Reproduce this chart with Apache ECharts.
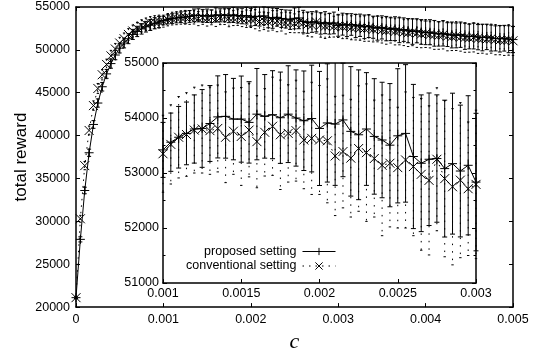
<!DOCTYPE html>
<html><head><meta charset="utf-8">
<script src="https://cdn.jsdelivr.net/npm/echarts@6/dist/echarts.min.js"></script>
<style>html,body{margin:0;padding:0;background:#fff}#c{width:538px;height:358px}</style>
</head><body><div id="c"></div>
<script>
// sample spacing of parameter c
const cStep = 0.00005;
const seriesNames = ['proposed setting', 'conventional setting'];
const mainXTicks = [0, 0.001, 0.002, 0.003, 0.004, 0.005];
const insetXTicks = [0.001, 0.0015, 0.002, 0.0025, 0.003];

const proposedMean = [
  21100, 27900, 33600, 38000, 41300, 43800, 45700, 47200, 48400, 49400,
  50200, 50800, 51300, 51800, 52150, 52450, 52700, 52900, 53100, 53250,
  53420, 53560, 53650, 53720, 53800, 53810, 53900, 54020, 54030, 53980,
  53980, 53920, 54070, 54030, 54060, 54005, 54070, 54000, 53950, 53990,
  53810, 53910, 53890, 53965, 53757, 53695, 53800, 53665, 53600, 53506,
  53676, 53720, 53300, 53177, 53250, 53263, 53080, 53170, 53036, 53140,
  52835,
  53000, 52880, 52960, 52780, 52870, 52690, 52760, 52640, 52530, 52620,
  52480, 52410, 52470, 52290, 52360, 52240, 52130, 52220, 52090, 51990,
  52060, 51930, 51860, 51920, 51780, 51740, 51690, 51770, 51590, 51560,
  51610, 51480, 51440, 51510, 51380, 51340, 51290, 51360, 51240, 51200
];
const proposedErr = [
  100, 300, 380, 420, 450, 480, 500, 520, 540, 550,
  560, 570, 580, 590, 600, 610, 620, 640, 650, 660,
  500, 530, 560, 570, 620, 707, 690, 746, 760, 740,
  783, 740, 830, 760, 800, 830, 880, 875, 905, 970,
  1037, 1075, 1115, 1032, 1177, 1180, 1025, 1050, 1050, 1120,
  1220, 1250, 1311, 1243, 1205, 1158, 1244, 1281, 1198, 1265,
  1250,
  1280, 1330, 1260, 1350, 1300, 1380, 1320, 1290, 1400, 1350,
  1420, 1330, 1390, 1450, 1370, 1410, 1480, 1400, 1440, 1380,
  1460, 1500, 1420, 1470, 1390, 1510, 1450, 1480, 1530, 1440,
  1500, 1470, 1550, 1480, 1520, 1460, 1540, 1500, 1570, 1520
];
const conventionalMean = [
  21100, 30300, 36500, 40600, 43500, 45500, 47100, 48300, 49300, 50100,
  50800, 51300, 51800, 52200, 52500, 52800, 53000, 53150, 53250, 53300,
  53350, 53520, 53650, 53700, 53780, 53800, 53770, 53810, 53650, 53760,
  53665, 53780, 53570, 53740, 53850, 53695, 53720, 53770, 53600, 53630,
  53600, 53585, 53310, 53390, 53270, 53445, 53370, 53263, 53140, 53177,
  53098, 53237, 53117, 52976, 52866, 53250, 52897, 52750, 52870, 52714,
  52793,
  52690, 52760, 52580, 52660, 52540, 52480, 52560, 52390, 52460, 52290,
  52240, 52310, 52140, 52210, 52040, 51990, 52060, 51940, 51840, 51910,
  51790, 51740, 51680, 51760, 51590, 51540, 51610, 51490, 51440, 51390,
  51460, 51340, 51290, 51240, 51310, 51190, 51140, 51090, 51160, 51060
];
const conventionalErr = [
  100, 400, 480, 520, 550, 580, 600, 620, 640, 650,
  660, 670, 680, 690, 700, 710, 720, 730, 740, 750,
  700, 720, 740, 760, 780, 800, 794, 790, 825, 784,
  890, 850, 838, 795, 893, 995, 885, 917, 886, 1020,
  990, 1127, 1084, 1024, 1070, 1141, 1250, 1063, 1280, 1157,
  1098, 1237, 1257, 1380, 1356, 1300, 1420, 1420, 1410, 1214,
  1350,
  1380, 1450, 1400, 1500, 1420, 1480, 1550, 1460, 1520, 1490,
  1580, 1510, 1560, 1620, 1540, 1600, 1570, 1650, 1590, 1630,
  1560, 1680, 1610, 1650, 1700, 1620, 1680, 1640, 1720, 1660,
  1700, 1750, 1680, 1730, 1690, 1760, 1710, 1740, 1780, 1720
];

const cValues = proposedMean.map((_, i) => +(i * cStep).toFixed(6));
const build = (mean, err, lo, hi) => cValues
  .map((c, i) => [c, mean[i], err[i]])
  .filter(d => d[0] >= lo - 1e-9 && d[0] <= hi + 1e-9);

const propMain = build(proposedMean, proposedErr, 0, 0.005);
const convMain = build(conventionalMean, conventionalErr, 0, 0.005);
const propInset = build(proposedMean, proposedErr, 0.001, 0.003);
const convInset = build(conventionalMean, conventionalErr, 0.001, 0.003);

const PLUS = 'path://M0,5L10,5M5,0L5,10';
const CROSS = 'path://M0,0L10,10M10,0L0,10';
const FONT = 'Liberation Sans, Arial, Helvetica, sans-serif';
const fmtNum = v => String(+(+v).toFixed(6));

function errRenderer(capHalf, dash) {
  return function (params, api) {
    const x = api.value(0), m = api.value(1), e = api.value(2);
    const cs = params.coordSys;
    const p1 = api.coord([x, m + e]);
    const p2 = api.coord([x, m - e]);
    const yT = cs.y, yB = cs.y + cs.height;
    const y1 = Math.max(yT, Math.min(yB, p1[1]));
    const y2 = Math.max(yT, Math.min(yB, p2[1]));
    const ch = [];
    if (y2 > y1) ch.push({type: 'line', shape: {x1: p1[0], y1: y1, x2: p1[0], y2: y2},
      style: {stroke: '#000', lineWidth: 1, lineDash: dash || null}});
    if (p1[1] >= yT && p1[1] <= yB) ch.push({type: 'line', shape: {x1: p1[0] - capHalf, y1: p1[1], x2: p1[0] + capHalf, y2: p1[1]}, style: {stroke: '#000', lineWidth: 1}});
    if (p2[1] >= yT && p2[1] <= yB) ch.push({type: 'line', shape: {x1: p2[0] - capHalf, y1: p2[1], x2: p2[0] + capHalf, y2: p2[1]}, style: {stroke: '#000', lineWidth: 1}});
    return {type: 'group', children: ch};
  };
}

function axisCommon(extra) {
  return Object.assign({
    type: 'value',
    splitLine: {show: false},
    axisLine: {show: true, onZero: false, lineStyle: {color: '#000', width: 1.5}},
    axisTick: {show: true, inside: true, length: 4, lineStyle: {color: '#000', width: 1}},
    axisLabel: {color: '#000', fontSize: 12.5, fontFamily: FONT, formatter: fmtNum}
  }, extra);
}

const lineSeries = (name, data, xi, yi, symbol, dash, z) => ({
  name, type: 'line', xAxisIndex: xi, yAxisIndex: yi,
  data: data.map(d => [d[0], d[1]]),
  symbol, symbolSize: 9, showSymbol: true, showAllSymbol: true,
  lineStyle: {color: '#000', width: 1, type: dash ? [1.5, 5] : 'solid'},
  itemStyle: {color: '#000', borderColor: '#000', borderWidth: 1},
  emphasis: {disabled: true}, animation: false, silent: true, z
});
const errSeries = (name, data, xi, yi, capHalf, dash, z) => ({
  name, type: 'custom', xAxisIndex: xi, yAxisIndex: yi,
  data, encode: {x: 0, y: 1}, renderItem: errRenderer(capHalf, dash),
  animation: false, silent: true, z
});

const chart = echarts.init(document.getElementById('c'), null, {renderer: 'canvas'});
chart.setOption({
  backgroundColor: '#fff',
  animation: false,
  grid: [
    {left: 76, top: 7, width: 437, height: 303, show: false},
    {left: 163, top: 63, width: 313, height: 220, show: true, backgroundColor: '#fff', borderWidth: 0, z: 5}
  ],
  legend: {
    data: seriesNames, orient: 'vertical', align: 'right', right: 202, top: 245, padding: 0,
    itemWidth: 33, itemHeight: 9, itemGap: 1.5, z: 20,
    itemStyle: {borderWidth: 1, borderColor: '#000', color: '#000'},
    lineStyle: {width: 1},
    textStyle: {color: '#000', fontSize: 12.5, fontFamily: FONT, padding: [0, 1, 0, 0]}
  },
  xAxis: [
    axisCommon({gridIndex: 0, position: 'bottom', min: 0, max: 0.005, interval: 0.001,
      axisLabel: {color: '#000', fontSize: 12.5, fontFamily: FONT, margin: 6, formatter: fmtNum},
      name: 'c', nameLocation: 'middle', nameGap: 21,
      nameTextStyle: {fontFamily: 'Liberation Serif, Times New Roman, serif', fontStyle: 'italic', fontSize: 22, color: '#000'}}),
    axisCommon({gridIndex: 0, position: 'top', min: 0, max: 0.005, interval: 0.001, axisLabel: {show: false}}),
    axisCommon({gridIndex: 1, position: 'bottom', min: 0.001, max: 0.003, interval: 0.0005, z: 6,
      axisLabel: {color: '#000', fontSize: 12.5, fontFamily: FONT, margin: 4, formatter: fmtNum}}),
    axisCommon({gridIndex: 1, position: 'top', min: 0.001, max: 0.003, interval: 0.0005, z: 6, axisLabel: {show: false}})
  ],
  yAxis: [
    axisCommon({gridIndex: 0, position: 'left', min: 20000, max: 55000, interval: 5000,
      axisLabel: {color: '#000', fontSize: 12.5, fontFamily: FONT, margin: 6, formatter: fmtNum},
      name: 'total reward', nameLocation: 'middle', nameGap: 46, nameRotate: 90, nameMoveOverlap: false,
      nameTextStyle: {fontFamily: FONT, fontSize: 17, color: '#000'}}),
    axisCommon({gridIndex: 0, position: 'right', min: 20000, max: 55000, interval: 5000, axisLabel: {show: false}}),
    axisCommon({gridIndex: 1, position: 'left', min: 51000, max: 55000, interval: 1000, z: 6,
      minorTick: {show: true, splitNumber: 2, length: 2.5, lineStyle: {color: '#000'}},
      axisLabel: {color: '#000', fontSize: 12.5, fontFamily: FONT, margin: 4, formatter: fmtNum}}),
    axisCommon({gridIndex: 1, position: 'right', min: 51000, max: 55000, interval: 1000, z: 6,
      minorTick: {show: true, splitNumber: 2, length: 2.5, lineStyle: {color: '#000'}},
      axisLabel: {show: false}})
  ],
  series: [
    lineSeries(seriesNames[0], propMain, 0, 0, PLUS, false, 3),
    lineSeries(seriesNames[1], convMain, 0, 0, CROSS, true, 3),
    errSeries('proposed error', propMain, 0, 0, 2, null, 2),
    errSeries('conventional error', convMain, 0, 0, 1.2, [1.5, 6], 2),
    lineSeries(seriesNames[0], propInset, 2, 2, PLUS, false, 8),
    lineSeries(seriesNames[1], convInset, 2, 2, CROSS, true, 8),
    errSeries('proposed error inset', propInset, 2, 2, 2.5, null, 7),
    errSeries('conventional error inset', convInset, 2, 2, 1.2, [1.5, 6], 7)
  ]
});
</script></body></html>
